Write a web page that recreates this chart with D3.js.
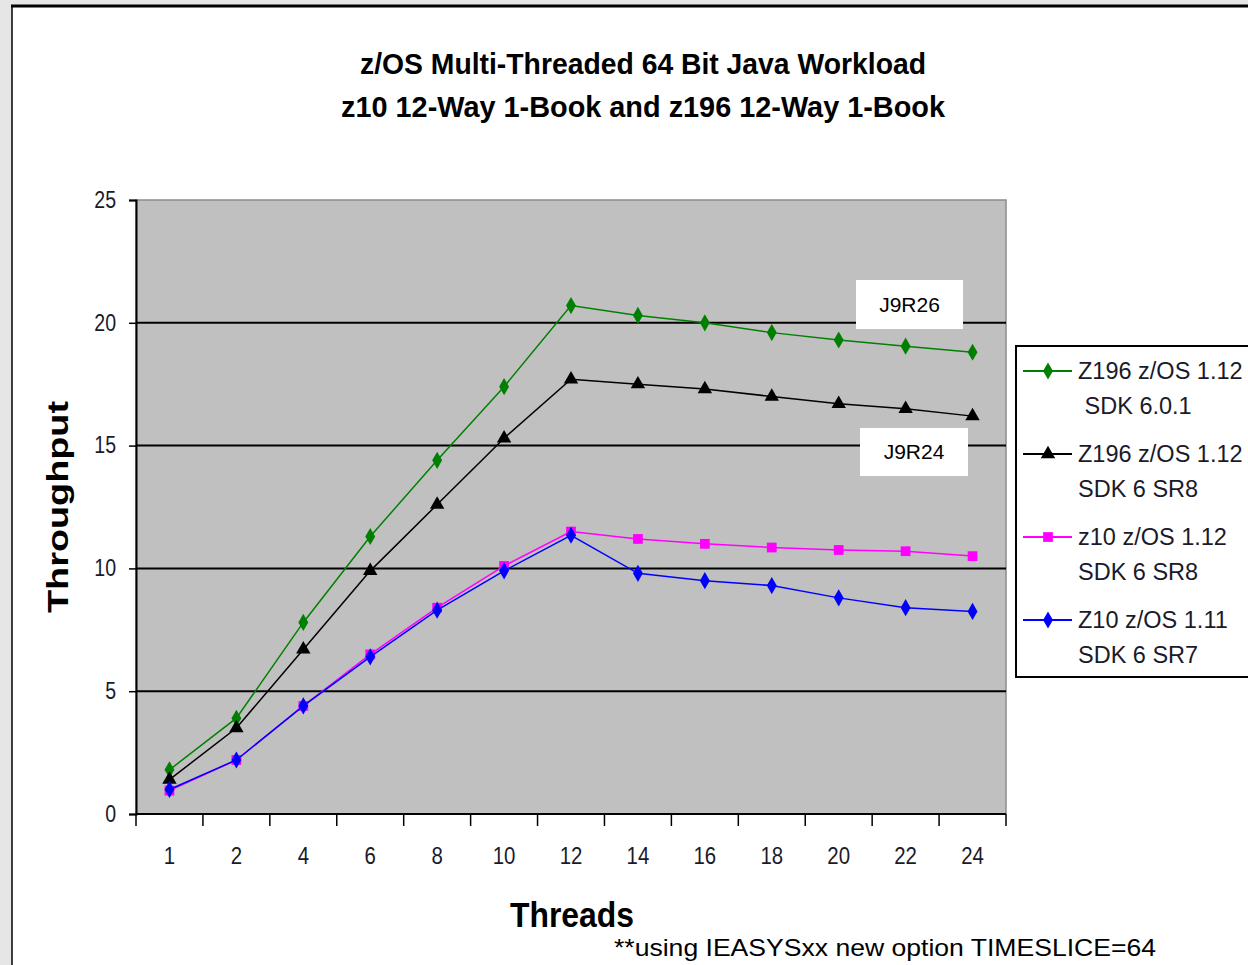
<!DOCTYPE html>
<html>
<head>
<meta charset="UTF-8">
<script src="https://cdn.jsdelivr.net/npm/d3@7"></script>
<style>
  body { margin: 0; background: #e6e6e6; overflow: hidden; }
  svg { display: block; }
  text { font-family: 'Liberation Sans', Arial, sans-serif; }
</style>
</head>
<body>
<svg id="chart" width="1248" height="965"></svg>
<script>
// thread counts (x categories)
const threads = ['1', '2', '4', '6', '8', '10', '12', '14', '16', '18', '20', '22', '24'];

// throughput per series
const z196Sdk601 = [1.8, 3.9, 7.8, 11.3, 14.4, 17.4, 20.7, 20.3, 20.0, 19.6, 19.3, 19.05, 18.8];
const z196Sdk6Sr8 = [1.4, 3.5, 6.7, 9.9, 12.6, 15.3, 17.7, 17.5, 17.3, 17.0, 16.7, 16.5, 16.2];
const z10Sdk6Sr8 = [0.95, 2.2, 4.4, 6.5, 8.4, 10.1, 11.5, 11.2, 11.0, 10.85, 10.75, 10.7, 10.5];
const z10Sdk6Sr7 = [1.0, 2.2, 4.4, 6.4, 8.3, 9.9, 11.35, 9.8, 9.5, 9.3, 8.8, 8.4, 8.25];

const yTicks = [0, 5, 10, 15, 20, 25];

const series = [
  { name: ['Z196 z/OS 1.12', ' SDK 6.0.1'], values: z196Sdk601, color: '#008000', shape: 'diamond' },
  { name: ['Z196 z/OS 1.12', 'SDK 6 SR8'], values: z196Sdk6Sr8, color: '#000000', shape: 'triangle' },
  { name: ['z10 z/OS 1.12', 'SDK 6 SR8'], values: z10Sdk6Sr8, color: '#ff00ff', shape: 'square' },
  { name: ['Z10 z/OS 1.11', 'SDK 6 SR7'], values: z10Sdk6Sr7, color: '#0000ff', shape: 'diamond' },
];

const svg = d3.select('#chart');
const plotL = 136, plotR = 1006, plotT = 200, plotB = 814;

// outer panel
svg.append('rect').attr('x', 0).attr('y', 0).attr('width', 1248).attr('height', 965).attr('fill', '#e6e6e6');
svg.append('rect').attr('x', 12).attr('y', 6).attr('width', 1240).attr('height', 965).attr('fill', '#fff');
svg.append('line').attr('x1', 11).attr('x2', 1248).attr('y1', 6).attr('y2', 6).attr('stroke', '#000').attr('stroke-width', 3);
svg.append('line').attr('x1', 12).attr('x2', 12).attr('y1', 5).attr('y2', 965).attr('stroke', '#000').attr('stroke-width', 1.5);

const x = d3.scaleBand().domain(threads).range([plotL, plotR]);
const y = d3.scaleLinear().domain([0, 25]).range([plotB, plotT]);

// plot background
svg.append('rect').attr('x', plotL).attr('y', plotT).attr('width', plotR - plotL).attr('height', plotB - plotT)
  .attr('fill', '#c0c0c0').attr('stroke', '#8c8c8c').attr('stroke-width', 1.5);

// gridlines
svg.append('g').selectAll('line').data(yTicks.filter(d => d > 0 && d < 25)).join('line')
  .attr('x1', plotL).attr('x2', plotR)
  .attr('y1', d => y(d)).attr('y2', d => y(d))
  .attr('stroke', '#000').attr('stroke-width', 2);

// y axis
const yAxis = svg.append('g').attr('transform', `translate(${plotL},0)`)
  .call(d3.axisLeft(y).tickValues(yTicks).tickSize(7).tickPadding(14));
yAxis.select('.domain').attr('stroke', '#000').attr('stroke-width', 2);
yAxis.selectAll('.tick line').attr('stroke', '#000').attr('stroke-width', 1.5);
yAxis.selectAll('.tick text').attr('font-size', 23).attr('fill', '#1a1a2a')
  .attr('transform', 'scale(0.85,1)').attr('x', -20 / 0.85);

// x axis line + boundary ticks
svg.append('line').attr('x1', plotL).attr('x2', plotR).attr('y1', plotB).attr('y2', plotB)
  .attr('stroke', '#000').attr('stroke-width', 2);
const bounds = threads.map(t => x(t)).concat([plotR]);
svg.append('g').selectAll('line').data(bounds).join('line')
  .attr('x1', d => d).attr('x2', d => d).attr('y1', plotB).attr('y2', plotB + 12)
  .attr('stroke', '#000').attr('stroke-width', 1.5);

const xAxis = svg.append('g').attr('transform', `translate(0,${plotB})`)
  .call(d3.axisBottom(x).tickSize(0).tickPadding(33));
xAxis.select('.domain').remove();
xAxis.selectAll('.tick text').attr('font-size', 24).attr('fill', '#1a1a2a')
  .attr('transform', 'scale(0.85,1)');

// series lines and markers
const line = d3.line().x((d, i) => x(threads[i]) + x.bandwidth() / 2).y(d => y(d));
const symbolFor = s => s === 'diamond' ? d3.symbolDiamond : s === 'triangle' ? d3.symbolTriangle : d3.symbolSquare;
const sizeFor = s => s === 'diamond' ? 85 : s === 'triangle' ? 90 : 95;

series.forEach(s => {
  svg.append('path').datum(s.values).attr('d', line)
    .attr('fill', 'none').attr('stroke', s.color).attr('stroke-width', 1.5);
  svg.append('g').selectAll('path').data(s.values).join('path')
    .attr('transform', (d, i) => `translate(${x(threads[i]) + x.bandwidth() / 2},${y(d)})`)
    .attr('d', d3.symbol(symbolFor(s.shape), sizeFor(s.shape)))
    .attr('fill', s.color);
});

// annotations
const notes = [
  { text: 'J9R26', x: 856, y: 280, w: 107, h: 49 },
  { text: 'J9R24', x: 860, y: 428, w: 108, h: 48 },
];
notes.forEach(n => {
  svg.append('rect').attr('x', n.x).attr('y', n.y).attr('width', n.w).attr('height', n.h).attr('fill', '#fff');
  svg.append('text').attr('x', n.x + n.w / 2).attr('y', n.y + n.h / 2).attr('dy', '0.35em')
    .attr('text-anchor', 'middle').attr('font-size', 21).attr('fill', '#000').text(n.text);
});

// legend
const lg = svg.append('g');
lg.append('rect').attr('x', 1016).attr('y', 346).attr('width', 260).attr('height', 331)
  .attr('fill', '#fff').attr('stroke', '#000').attr('stroke-width', 2);
series.forEach((s, i) => {
  const cy = 371 + i * 83;
  lg.append('line').attr('x1', 1023).attr('x2', 1072).attr('y1', cy).attr('y2', cy)
    .attr('stroke', s.color).attr('stroke-width', 2);
  lg.append('path').attr('transform', `translate(1048,${cy})`)
    .attr('d', d3.symbol(symbolFor(s.shape), sizeFor(s.shape))).attr('fill', s.color);
  s.name.forEach((t, j) => {
    lg.append('text').attr('x', 1078).attr('y', cy + j * 35).attr('dy', '0.35em')
      .attr('font-size', 23.5).attr('fill', '#1a1a2a')
      .attr('xml:space', 'preserve').text(t);
  });
});

// titles
svg.append('text').attr('x', 643).attr('y', 64).attr('dy', '0.35em').attr('text-anchor', 'middle')
  .attr('font-size', 29).attr('font-weight', 'bold').attr('textLength', 566).attr('lengthAdjust', 'spacingAndGlyphs')
  .text('z/OS Multi-Threaded 64 Bit Java Workload');
svg.append('text').attr('x', 643).attr('y', 107).attr('dy', '0.35em').attr('text-anchor', 'middle')
  .attr('font-size', 29).attr('font-weight', 'bold').attr('textLength', 604).attr('lengthAdjust', 'spacingAndGlyphs')
  .text('z10 12-Way 1-Book and z196 12-Way 1-Book');

svg.append('text').attr('transform', 'translate(58,507) rotate(-90)').attr('dy', '0.35em')
  .attr('text-anchor', 'middle').attr('font-size', 29).attr('font-weight', 'bold')
  .attr('textLength', 212).attr('lengthAdjust', 'spacingAndGlyphs').text('Throughput');

svg.append('text').attr('x', 572).attr('y', 915).attr('dy', '0.35em').attr('text-anchor', 'middle')
  .attr('font-size', 35).attr('font-weight', 'bold')
  .attr('textLength', 124).attr('lengthAdjust', 'spacingAndGlyphs').text('Threads');

svg.append('text').attr('x', 614).attr('y', 948).attr('dy', '0.35em')
  .attr('font-size', 24).attr('fill', '#000')
  .attr('textLength', 542).attr('lengthAdjust', 'spacingAndGlyphs')
  .text('**using IEASYSxx new option TIMESLICE=64');
</script>
</body>
</html>
